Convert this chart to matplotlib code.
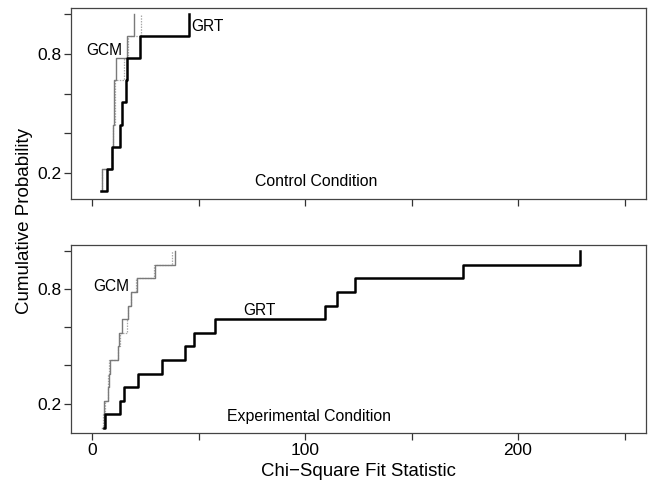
import matplotlib
matplotlib.use("Agg")
import matplotlib.pyplot as plt
import numpy as np

plt.rcParams['font.family'] = ['Liberation Sans', 'DejaVu Sans']

# Sorted chi-square fit statistics per model (one value per participant)
control_grt = [4.0, 6.9, 9.2, 12.8, 13.9, 16.0, 16.1, 22.4, 45.3]
control_gcm = [4.0, 4.5, 9.2, 9.6, 10.0, 10.3, 11.2, 16.4, 19.6]
control_gcm_alt = [4.0, 4.6, 9.3, 9.8, 10.7, 10.8, 14.9, 16.6, 22.9]

experimental_grt = [5.6, 6.0, 12.8, 14.7, 21.5, 32.9, 43.8, 48.0, 57.8,
                    109.5, 114.8, 123.2, 174.2, 229.2]
experimental_gcm = [4.8, 5.3, 5.5, 7.6, 7.9, 8.3, 12.2, 12.4, 14.0,
                    16.8, 18.4, 20.8, 29.3, 38.7]
experimental_gcm_alt = [4.4, 4.9, 5.8, 7.3, 7.6, 8.0, 12.0, 13.0, 16.3,
                        17.0, 18.0, 20.5, 28.8, 37.6]

x_ticks = [0, 50, 100, 150, 200, 250]
x_tick_labels = ['0', '', '100', '', '200', '']
y_ticks = [0.2, 0.4, 0.6, 0.8, 1.0]
y_tick_labels = ['0.2', '', '', '0.8', '']


def ecdf(values):
    v = np.sort(np.asarray(values, dtype=float))
    return v, np.arange(1, len(v) + 1) / len(v)


fig = plt.figure(figsize=(6.51, 4.90), dpi=100)
ax_top = fig.add_axes([0.109, 0.594, 0.883, 0.390])
ax_bot = fig.add_axes([0.109, 0.1163, 0.883, 0.3837])


def draw_panel(ax, grt, gcm, gcm_alt, ylim):
    x, y = ecdf(gcm_alt)
    ax.plot(x, y, drawstyle='steps-post', color='#a8a8a8', lw=0.9,
            linestyle=(0, (1.2, 1.0)))
    x, y = ecdf(gcm)
    ax.plot(x, y, drawstyle='steps-post', color='#7a7a7a', lw=1.0)
    x, y = ecdf(grt)
    ax.plot(x, y, drawstyle='steps-post', color='black', lw=1.8)
    ax.set_xlim(-10, 260)
    ax.set_ylim(*ylim)
    ax.set_xticks(x_ticks)
    ax.set_yticks(y_ticks)
    ax.set_yticklabels(y_tick_labels)
    ax.tick_params(direction='out', length=5, width=0.9, labelsize=12.5,
                   color='#333333', pad=2)
    for s in ax.spines.values():
        s.set_color('#444444')
        s.set_linewidth(0.9)


draw_panel(ax_top, control_grt, control_gcm, control_gcm_alt, (0.071, 1.031))
ax_top.set_xticklabels([])
ax_top.text(14.2, 0.815, 'GCM', ha='right', va='center', fontsize=11.2)
ax_top.text(46.6, 0.937, 'GRT', ha='left', va='center', fontsize=11.2)
ax_top.text(105, 0.161, 'Control Condition', ha='center', va='center',
            fontsize=11.4)

draw_panel(ax_bot, experimental_grt, experimental_gcm, experimental_gcm_alt,
           (0.045, 1.033))
ax_bot.set_xticklabels(x_tick_labels)
ax_bot.text(17.3, 0.814, 'GCM', ha='right', va='center', fontsize=11.2)
ax_bot.text(70.7, 0.691, 'GRT', ha='left', va='center', fontsize=11.2)
ax_bot.text(102, 0.133, 'Experimental Condition', ha='center', va='center',
            fontsize=11.4)
ax_bot.set_xlabel('Chi\u2212Square Fit Statistic', fontsize=13.4, labelpad=4)

fig.text(0.038, 0.55, 'Cumulative Probability', rotation=90, ha='center',
         va='center', fontsize=13.5)

fig.savefig('out.png', dpi=100)
